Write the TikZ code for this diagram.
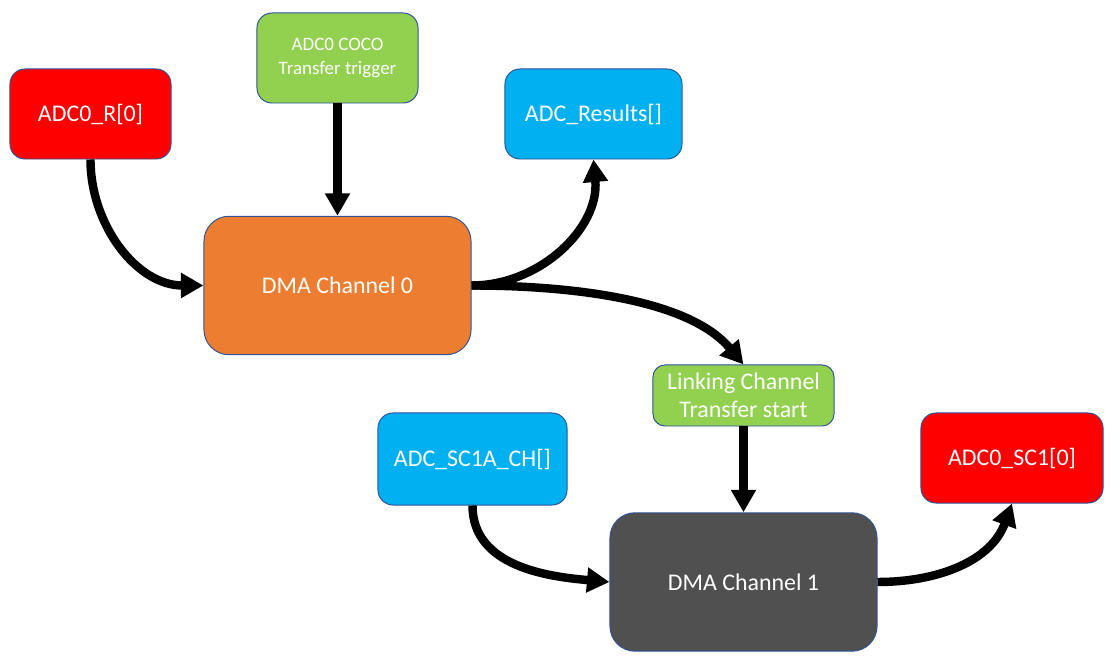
\documentclass[tikz,border=0pt]{standalone}
\usepackage{fontspec}
\setmainfont{Carlito}
\usetikzlibrary{arrows.meta}
\definecolor{regred}{HTML}{FF0000}
\definecolor{trigreen}{HTML}{92D050}
\definecolor{arrblue}{HTML}{00B0F0}
\definecolor{dmaorange}{HTML}{ED7D31}
\definecolor{dmagray}{HTML}{505050}
\definecolor{edgeblue}{HTML}{2F5597}
\tikzset{every picture/.style={x=0.025cm,y=0.025cm}}
\tikzset{
    box/.style={draw=edgeblue, line width=0.7pt, rounded corners=0.375cm, text=white,
        align=center, font=\fontsize{17}{20}\selectfont, inner sep=0pt},
    smallbox/.style={box, minimum width=4.025cm, minimum height=2.25cm},
    dmabox/.style={box, rounded corners=0.625cm, minimum width=6.675cm, minimum height=3.46cm},
    flow/.style={line width=6pt, -{Triangle[length=16pt,width=17pt]}}
}
\begin{document}
\begin{tikzpicture}

    % Fix the page size
    \useasboundingbox (0,0) rectangle (1120,-661);

    % Sources and targets
    \node[smallbox, fill=regred] (adcr) at (90.5,-114) {ADC0\_R[0]};
    \node[smallbox, fill=trigreen, font=\fontsize{13.5}{16.5}\selectfont] (coco) at (337.5,-58) {ADC0 COCO\\Transfer trigger};
    \node[smallbox, fill=arrblue, minimum width=4.425cm] (results) at (593.5,-114) {ADC\_Results[]};
    \node[smallbox, fill=arrblue, minimum width=4.725cm, minimum height=2.3cm] (chlist) at (472.5,-459) {ADC\_SC1A\_CH[]};
    \node[smallbox, fill=regred, minimum width=4.55cm] (adcsc) at (1012,-458) {ADC0\_SC1[0]};

    % Link trigger
    \node[smallbox, fill=trigreen, minimum width=4.525cm, minimum height=1.525cm, rounded corners=0.3cm] (link) at (743.5,-395.5) {Linking Channel\\Transfer start};

    % DMA channels
    \node[dmabox, fill=dmaorange] (dma0) at (337.5,-285.5) {DMA Channel 0};
    \node[dmabox, fill=dmagray] (dma1) at (743.5,-582) {DMA Channel 1};

    % Channel 0 flows
    \draw[flow] (adcr.south) to[out=-90, in=180] (dma0.west);
    \draw[flow] (coco.south) -- (dma0.north);
    \draw[flow] (dma0.east) to[out=0, in=-85] (results.south);
    \draw[flow] (dma0.east) to[out=0, in=130, looseness=0.8] (link.north);

    % Channel 1 flows
    \draw[flow] (link.south) -- (dma1.north);
    \draw[flow] (chlist.south) to[out=-90, in=175] (dma1.west);
    \draw[flow] (dma1.east) to[out=0, in=-110] (adcsc.south);

\end{tikzpicture}
\end{document}
